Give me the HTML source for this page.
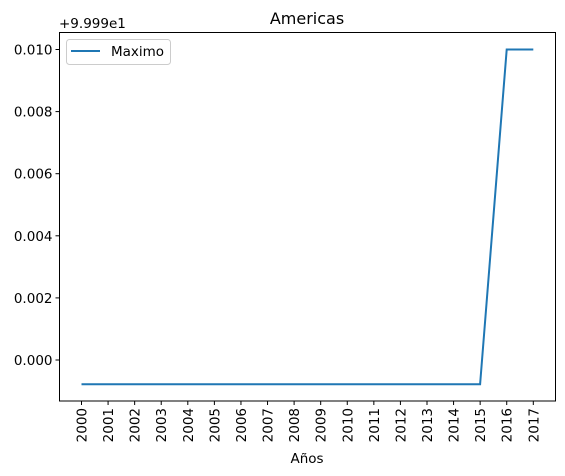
<!DOCTYPE html>
<html><head><meta charset="utf-8"><style>
body{margin:0;background:#fff;}
svg{display:block;font-family:"DejaVu Sans","Liberation Sans",sans-serif;}
</style></head><body>
<svg id="chart" width="565" height="476" viewBox="0 0 565 476" xmlns="http://www.w3.org/2000/svg"></svg>
<script>
const categories = ["2000","2001","2002","2003","2004","2005","2006","2007","2008","2009","2010","2011","2012","2013","2014","2015","2016","2017"];
const maximoValues = [99.98922,99.98922,99.98922,99.98922,99.98922,99.98922,99.98922,99.98922,99.98922,99.98922,99.98922,99.98922,99.98922,99.98922,99.98922,99.98922,100.0,100.0];
const yTickLabels = ["0.000","0.002","0.004","0.006","0.008","0.010"];
const yTickValues = [0,0.002,0.004,0.006,0.008,0.010];
const offset = 99.99;

const NS="http://www.w3.org/2000/svg";
const svg=document.getElementById('chart');
const L=59.5,R=555.5,T=32.5,B=401;
function xs(i){return 81.5+i*(533.3-81.5)/(categories.length-1);}
function ys(v){return 360-(v-offset)*(360-49.5)/0.010;}
function mk(tag,attrs,text){const e=document.createElementNS(NS,tag);for(const k in attrs)e.setAttribute(k,attrs[k]);if(text!==undefined)e.textContent=text;svg.appendChild(e);return e;}

let e=mk('text',{x:307,y:24,'text-anchor':'middle','font-size':16,fill:'#000'},'Americas');


e=mk('text',{x:59,y:28,'font-size':13.5,fill:'#000'},'+9.999e1');



yTickValues.forEach((v,i)=>{
  const y=ys(offset+v);
  let t=mk('line',{x1:L-4,x2:L,y1:y,y2:y,stroke:'#000','stroke-width':1});
  
  
  t=mk('text',{x:L-7,y:y+5,'text-anchor':'end','font-size':13.5,fill:'#000'},yTickLabels[i]);
  
  
});
categories.forEach((c,i)=>{
  const x=xs(i);
  let t=mk('line',{x1:x,x2:x,y1:B,y2:B+4,stroke:'#000','stroke-width':1});
  
  
  t=mk('text',{x:0,y:0,'text-anchor':'end','font-size':13.5,fill:'#000',transform:`translate(${x+5},${B+7}) rotate(-90)`},c);
  
  
});
const pts=maximoValues.map((v,i)=>xs(i).toFixed(1)+','+ys(v).toFixed(1)).join(' ');
e=mk('polyline',{points:pts,fill:'none',stroke:'#1f77b4','stroke-width':2});


e=mk('rect',{x:L,y:T,width:R-L,height:B-T,fill:'none',stroke:'#000','stroke-width':1});


e=mk('text',{x:307,y:463,'text-anchor':'middle','font-size':13.5,fill:'#000'},'Años');


e=mk('rect',{x:66.5,y:39.5,width:104,height:25,rx:3,fill:'#fff','fill-opacity':0.8,stroke:'#ccc','stroke-width':1});


e=mk('line',{x1:71,x2:100,y1:51,y2:51,stroke:'#1f77b4','stroke-width':2});


e=mk('text',{x:111,y:56,'font-size':13.5,fill:'#000'},'Maximo');


</script>
</body></html>
